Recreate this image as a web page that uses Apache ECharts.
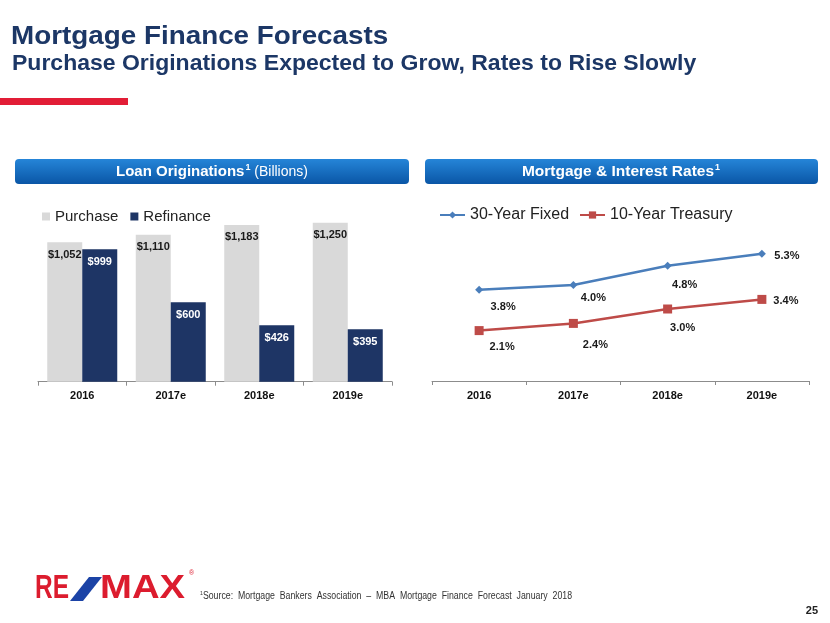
<!DOCTYPE html>
<html>
<head>
<meta charset="utf-8">
<script src="https://cdn.jsdelivr.net/npm/echarts@6/dist/echarts.min.js"></script>
<style>
html,body{margin:0;padding:0;background:#fff;}
#chart{width:830px;height:623px;}
</style>
</head>
<body>
<div id="chart"></div>
<script>
// ---- data ----
var barCategories = ['2016', '2017e', '2018e', '2019e'];
var purchase = [1052, 1110, 1183, 1250];
var refinance = [999, 600, 426, 395];

var rateCategories = ['2016', '2017e', '2018e', '2019e'];
var fixed30 = [3.8, 4.0, 4.8, 5.3];
var treasury10 = [2.1, 2.4, 3.0, 3.4];

// ---- label placement (style only) ----
var fixedLabelOffsets = [[24, 17], [20, 13], [17, 19], [25, 2]];
var treasuryLabelOffsets = [[23, 16], [22, 22], [15, 19], [24, 2]];

var FONT = '"Liberation Sans", Arial, sans-serif';
var NAVY = '#1c3766';

function money(v) { return '$' + v.toLocaleString('en-US'); }

function lineData(vals, offs) {
  return vals.map(function (v, i) {
    return { value: v, label: { offset: offs[i] } };
  });
}

var chart = echarts.init(document.getElementById('chart'));

var headerGradient = new echarts.graphic.LinearGradient(0, 0, 0, 1, [
  { offset: 0, color: '#2585d8' },
  { offset: 1, color: '#0a56a6' }
]);

var option = {
  animation: false,
  backgroundColor: '#ffffff',
  textStyle: { fontFamily: FONT },
  graphic: [
    { type: 'text', x: 11, y: 37, scaleX: 1.05, style: { text: 'Mortgage Finance Forecasts', font: 'bold 26.5px ' + FONT, fill: NAVY, verticalAlign: 'middle' } },
    { type: 'text', x: 12, y: 64, scaleX: 1.08, style: { text: 'Purchase Originations Expected to Grow, Rates to Rise Slowly', font: 'bold 21.3px ' + FONT, fill: NAVY, verticalAlign: 'middle' } },
    { type: 'rect', shape: { x: 0, y: 98, width: 128, height: 7 }, style: { fill: '#e21d36' } },
    { type: 'rect', shape: { x: 15, y: 159, width: 394, height: 25, r: 4 }, style: { fill: headerGradient } },
    { type: 'rect', shape: { x: 425, y: 159, width: 393, height: 25, r: 4 }, style: { fill: headerGradient } },
    { type: 'text', x: 212, y: 172, style: {
        text: '{b|Loan Originations}{s|1}{n| (Billions)}', align: 'center', verticalAlign: 'middle',
        rich: {
          b: { font: 'bold 15px ' + FONT, fill: '#fff' },
          s: { font: 'bold 9px ' + FONT, fill: '#fff', padding: [0, 0, 8, 1] },
          n: { font: '14px ' + FONT, fill: '#fff' }
        } } },
    { type: 'text', x: 621, y: 172, style: {
        text: '{b|Mortgage & Interest Rates}{s|1}', align: 'center', verticalAlign: 'middle',
        rich: {
          b: { font: 'bold 15.5px ' + FONT, fill: '#fff' },
          s: { font: 'bold 9px ' + FONT, fill: '#fff', padding: [0, 0, 8, 1] }
        } } },
    // logo
    { type: 'text', x: 35, y: 589, scaleX: 0.72, style: { text: 'RE', font: 'bold 34px ' + FONT, fill: '#dc1c2e', verticalAlign: 'middle' } },
    { type: 'polygon', shape: { points: [[70, 601], [83, 601], [102, 577], [89, 577]] }, style: { fill: '#1b43a6' } },
    { type: 'text', x: 100, y: 589, scaleX: 1.16, style: { text: 'MAX', font: 'bold 33px ' + FONT, fill: '#dc1c2e', verticalAlign: 'middle' } },
    { type: 'text', x: 189, y: 573, style: { text: '®', font: '7px ' + FONT, fill: '#dc1c2e', verticalAlign: 'middle' } },
    { type: 'text', x: 200, y: 596, scaleX: 0.875, style: {
        text: '{s|1}{t|Source:  Mortgage  Bankers  Association  –  MBA  Mortgage  Finance  Forecast  January  2018}', verticalAlign: 'middle',
        rich: {
          s: { font: '6px ' + FONT, fill: '#333', padding: [0, 0, 6, 0] },
          t: { font: '10px ' + FONT, fill: '#333' }
        } } },
    { type: 'text', x: 818, y: 611, style: { text: '25', font: 'bold 11px ' + FONT, fill: '#222', align: 'right', verticalAlign: 'middle' } }
  ],
  legend: [
    {
      data: ['Purchase', 'Refinance'],
      left: 37, top: 204,
      icon: 'rect', itemWidth: 8, itemHeight: 8, itemGap: 12,
      textStyle: { fontSize: 15, color: '#222', fontFamily: FONT }
    },
    {
      data: ['30-Year Fixed', '10-Year Treasury'],
      left: 434, top: 202,
      itemWidth: 25, itemHeight: 9, itemGap: 10,
      textStyle: { fontSize: 16, color: '#222', fontFamily: FONT }
    }
  ],
  grid: [
    { left: 38, right: 438, top: 222.7, bottom: 241.3, containLabel: false },
    { left: 432, right: 21, top: 237, bottom: 242, containLabel: false }
  ],
  xAxis: [
    {
      type: 'category', gridIndex: 0, data: barCategories,
      axisLine: { lineStyle: { color: '#8c8c8c', width: 1 } },
      axisTick: { show: true, length: 4, lineStyle: { color: '#8c8c8c' } },
      axisLabel: { fontSize: 11, fontWeight: 'bold', color: '#111', margin: 9, fontFamily: FONT }
    },
    {
      type: 'category', gridIndex: 1, data: rateCategories,
      axisLine: { lineStyle: { color: '#8c8c8c', width: 1 } },
      axisTick: { show: true, length: 4, lineStyle: { color: '#8c8c8c' } },
      axisLabel: { fontSize: 11, fontWeight: 'bold', color: '#111', margin: 9, fontFamily: FONT }
    }
  ],
  yAxis: [
    { type: 'value', gridIndex: 0, min: 0, max: 1200, show: false, splitLine: { show: false } },
    { type: 'value', gridIndex: 1, min: 0, max: 6, show: false, splitLine: { show: false } }
  ],
  series: [
    {
      name: 'Purchase', type: 'bar', xAxisIndex: 0, yAxisIndex: 0,
      data: purchase, barWidth: 35, barGap: '0%', clip: true,
      itemStyle: { color: '#d9d9d9' },
      label: { show: true, position: 'insideTop', distance: 7, formatter: function (p) { return money(p.value); },
        fontSize: 11, fontWeight: 'bold', color: '#1a1a1a', fontFamily: FONT }
    },
    {
      name: 'Refinance', type: 'bar', xAxisIndex: 0, yAxisIndex: 0,
      data: refinance, barWidth: 35, barGap: '0%', clip: true,
      itemStyle: { color: '#1e3565' },
      label: { show: true, position: 'insideTop', distance: 7, formatter: function (p) { return money(p.value); },
        fontSize: 11, fontWeight: 'bold', color: '#ffffff', fontFamily: FONT }
    },
    {
      name: '30-Year Fixed', type: 'line', xAxisIndex: 1, yAxisIndex: 1,
      data: lineData(fixed30, fixedLabelOffsets),
      symbol: 'diamond', symbolSize: 8,
      lineStyle: { color: '#4a7ebb', width: 2.5 },
      itemStyle: { color: '#4a7ebb' },
      label: { show: true, position: 'inside', formatter: function (p) { return p.value.toFixed(1) + '%'; },
        fontSize: 11, fontWeight: 'bold', color: '#1a1a1a', fontFamily: FONT }
    },
    {
      name: '10-Year Treasury', type: 'line', xAxisIndex: 1, yAxisIndex: 1,
      data: lineData(treasury10, treasuryLabelOffsets),
      symbol: 'rect', symbolSize: 9,
      lineStyle: { color: '#be4b48', width: 2.5 },
      itemStyle: { color: '#be4b48' },
      label: { show: true, position: 'inside', formatter: function (p) { return p.value.toFixed(1) + '%'; },
        fontSize: 11, fontWeight: 'bold', color: '#1a1a1a', fontFamily: FONT }
    }
  ]
};

chart.setOption(option);
</script>
</body>
</html>
